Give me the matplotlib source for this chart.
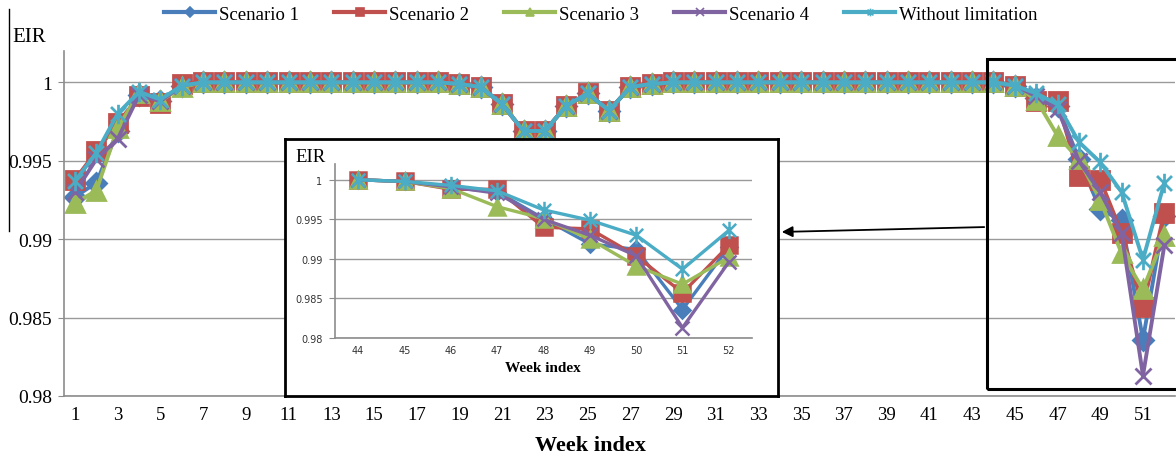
import matplotlib
matplotlib.use('Agg')
import matplotlib.pyplot as plt
from matplotlib.path import Path
from matplotlib.lines import Line2D
from matplotlib.patches import Rectangle, FancyArrowPatch

plt.rcParams['font.family'] = ['Liberation Serif', 'DejaVu Serif']

weeks = list(range(1, 53))

# weeks 7..45 look identical for every scenario
mid = [1.0, 1.0, 1.0, 1.0, 1.0, 1.0, 1.0, 1.0, 1.0, 1.0, 1.0, 1.0,
       0.9999, 0.9997, 0.9986, 0.9969, 0.9969, 0.9985, 0.9993, 0.9982, 0.9997, 0.9999,
       1.0, 1.0, 1.0, 1.0, 1.0, 1.0, 1.0, 1.0, 1.0, 1.0, 1.0, 1.0, 1.0, 1.0, 1.0, 1.0,
       0.9998]

s1 = [0.9927, 0.9936, 0.9969, 0.9992, 0.9988, 0.9998] + mid + \
     [0.9990, 0.9985, 0.9951, 0.9919, 0.9912, 0.9836, 0.9915]
s2 = [0.9938, 0.9956, 0.9974, 0.9991, 0.9987, 0.9999] + mid + \
     [0.9988, 0.9988, 0.9940, 0.9938, 0.9904, 0.9857, 0.9917]
s3 = [0.9923, 0.9931, 0.9971, 0.9993, 0.9988, 0.9997] + mid + \
     [0.9989, 0.9966, 0.9951, 0.9925, 0.9891, 0.9868, 0.9902]
s4 = [0.9930, 0.9951, 0.9964, 0.9992, 0.9988, 0.9998] + mid + \
     [0.9991, 0.9983, 0.9950, 0.9930, 0.9904, 0.9813, 0.9896]
wl = [0.9937, 0.9955, 0.9980, 0.9994, 0.9989, 0.9998] + mid + \
     [0.9993, 0.9986, 0.9962, 0.9949, 0.9930, 0.9887, 0.9936]

names = ['Scenario 1', 'Scenario 2', 'Scenario 3', 'Scenario 4', 'Without limitation']
colors = ['#4a7ebb', '#c0504d', '#9bbb59', '#8064a2', '#4bacc6']

star = Path([(-1, -1), (1, 1), (-1, 1), (1, -1), (0, -1.3), (0, 1.3)],
            [Path.MOVETO, Path.LINETO] * 3)
markers = ['D', 's', '^', 'x', star]
msizes = [10, 13, 13, 12, 14]

W, H = 1176, 460


def fx(x):
    return x / W


def fy(y):
    return 1 - y / H


fig = plt.figure(figsize=(W / 100, H / 100), dpi=100)
ax = fig.add_axes([fx(64.3), fy(397), (1175 - 64.3) / W, (397 - 52) / H])

series = [s1, s2, s3, s4, wl]
for vals, c, m, ms in zip(series, colors, markers, msizes):
    ax.plot(weeks, vals, color=c, lw=2.8, marker=m, markersize=ms,
            markeredgecolor=c, markeredgewidth=2)

ax.set_xlim(0.5, 52.5)
ax.set_ylim(0.98, 1.002)
ax.set_yticks([0.98, 0.985, 0.99, 0.995, 1.0])
ax.set_yticklabels(['0.98', '0.985', '0.99', '0.995', '1'])
ax.set_xticks(range(1, 52, 2))
ax.yaxis.grid(True, color='#9a9a9a', lw=1)
ax.set_axisbelow(True)
for s in ['top', 'right']:
    ax.spines[s].set_visible(False)
for s in ['left', 'bottom']:
    ax.spines[s].set_color('#8c8c8c')
    ax.spines[s].set_linewidth(1.2)
ax.tick_params(axis='x', length=0, pad=7, labelsize=13.5)
ax.tick_params(axis='y', length=4, color='#8c8c8c', pad=5, labelsize=14)

fig.text(fx(12), fy(38), 'EIR', ha='left', va='center', fontsize=15)
fig.text(fx(590), fy(446), 'Week index', ha='center', va='center',
         fontsize=16, fontweight='bold')
fig.add_artist(Line2D([fx(9), fx(9)], [fy(10), fy(232)], color='black', lw=1))

handles = [Line2D([], [], color=c, lw=3, marker=m, markersize=5.5,
                  markeredgecolor=c, markeredgewidth=1.2)
           for c, m in zip(colors, markers)]
fig.legend(handles, names, loc='center', bbox_to_anchor=(0.511, fy(15)), ncol=5,
           frameon=False, fontsize=13.5, handlelength=2.7, handletextpad=0.2,
           columnspacing=1.9)

# highlight box and arrow
fig.add_artist(Rectangle((fx(987), fy(390)), fx(1210 - 987), (390 - 60) / H,
                         transform=fig.transFigure, fill=False, ec='black', lw=2.2))
fig.add_artist(FancyArrowPatch((fx(987), fy(228)), (fx(779), fy(233)),
                               transform=fig.transFigure, arrowstyle='-|>',
                               mutation_scale=16, lw=1.3, color='black'))

# inset frame
box = fig.add_axes([fx(285), fy(397), (778 - 285) / W, (397 - 140) / H])
box.set_xticks([])
box.set_yticks([])
for s in box.spines.values():
    s.set_linewidth(2)
    s.set_color('black')

ix = fig.add_axes([fx(335), fy(339), (752 - 335) / W, (339 - 165) / H])
for vals, c, m, ms in zip(series, colors, markers, msizes):
    ix.plot(weeks[43:], vals[43:], color=c, lw=2.4, marker=m, markersize=ms - 1.5,
            markeredgecolor=c, markeredgewidth=1.8)
ix.set_xlim(43.5, 52.5)
ix.set_ylim(0.98, 1.002)
ix.set_xticks(weeks[43:])
ix.set_yticks([0.98, 0.985, 0.99, 0.995, 1.0])
ix.set_yticklabels(['0.98', '0.985', '0.99', '0.995', '1'])
ix.yaxis.grid(True, color='#9a9a9a', lw=1)
ix.set_axisbelow(True)
for s in ['top', 'right']:
    ix.spines[s].set_visible(False)
for s in ['left', 'bottom']:
    ix.spines[s].set_color('#8c8c8c')
    ix.spines[s].set_linewidth(1.2)
ix.tick_params(axis='x', length=0, pad=5)
ix.tick_params(axis='y', length=4, color='#8c8c8c', pad=5)
for lab in ix.get_xticklabels() + ix.get_yticklabels():
    lab.set_family('DejaVu Sans')
    lab.set_fontsize(7)
    lab.set_color('#333333')

fig.text(fx(295), fy(158), 'EIR', ha='left', va='center', fontsize=13.5)
fig.text(fx(543), fy(368), 'Week index', ha='center', va='center',
         fontsize=11, fontweight='bold')

fig.savefig('out.png', dpi=100)
